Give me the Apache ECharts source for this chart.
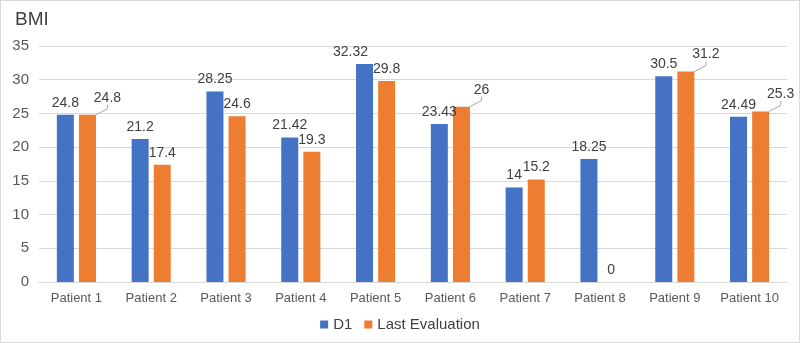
<!DOCTYPE html>
<html>
<head>
<meta charset="utf-8">
<script src="https://cdn.jsdelivr.net/npm/echarts@6/dist/echarts.min.js"></script>
<style>
  html, body { margin: 0; padding: 0; background: #fff; }
  #chart { width: 798px; height: 341px; border: 1px solid #d9d9d9; }
</style>
</head>
<body>
<div id="chart"></div>
<script>
// data
var categories = ["Patient 1", "Patient 2", "Patient 3", "Patient 4", "Patient 5",
  "Patient 6", "Patient 7", "Patient 8", "Patient 9", "Patient 10"];
var d1 = [24.8, 21.2, 28.25, 21.42, 32.32, 23.43, 14, 18.25, 30.5, 24.49];
var lastEval = [24.8, 17.4, 24.6, 19.3, 29.8, 26, 15.2, 0, 31.2, 25.3];
// orange labels that sit off to the side with a leader line
var movedLabels = [0, 5, 8, 9];

var chart = echarts.init(document.getElementById("chart"));
var font = "'Liberation Sans', Arial, sans-serif";

var lastData = lastEval.map(function (v, i) {
  if (movedLabels.indexOf(i) >= 0) {
    return { value: v, labelLine: { show: true } };
  }
  return v;
});

var option = {
  animation: false,
  textStyle: { fontFamily: font },
  title: {
    text: "BMI",
    left: 9,
    top: 4,
    textStyle: { fontSize: 19, fontWeight: "normal", color: "#404040", fontFamily: font }
  },
  legend: {
    data: ["D1", "Last Evaluation"],
    bottom: 5,
    left: "center",
    icon: "rect",
    itemWidth: 8,
    itemHeight: 8,
    itemGap: 12,
    textStyle: { fontSize: 15, color: "#404040", fontFamily: font }
  },
  grid: { left: 38, right: 12, top: 45, bottom: 60 },
  xAxis: {
    type: "category",
    data: categories,
    axisTick: { show: false },
    axisLine: { lineStyle: { color: "#d9d9d9" } },
    axisLabel: { color: "#595959", fontSize: 13, margin: 10, interval: 0, fontFamily: font }
  },
  yAxis: {
    type: "value",
    min: 0,
    max: 35,
    interval: 5,
    axisLabel: { color: "#595959", fontSize: 15, margin: 10, fontFamily: font },
    splitLine: { lineStyle: { color: "#d9d9d9" } }
  },
  series: [
    {
      name: "D1",
      type: "bar",
      barWidth: 17,
      barGap: "30%",
      itemStyle: { color: "#4472C4" },
      label: { show: true, position: "top", distance: 5, color: "#404040", fontSize: 14, fontFamily: font },
      labelLayout: function (params) {
        // Patient 5 label is nudged left in the original
        if (params.dataIndex === 4) {
          return { dx: -14 };
        }
      },
      data: d1
    },
    {
      name: "Last Evaluation",
      type: "bar",
      barWidth: 17,
      itemStyle: { color: "#ED7D31" },
      label: { show: true, position: "top", distance: 5, color: "#404040", fontSize: 14, fontFamily: font },
      labelLine: { show: false, length2: 4, lineStyle: { color: "#a6a6a6", width: 1 } },
      labelLayout: function (params) {
        if (movedLabels.indexOf(params.dataIndex) >= 0) {
          return { dx: 20, dy: -5 };
        }
      },
      data: lastData
    }
  ]
};

chart.setOption(option);
window.addEventListener("resize", function () { chart.resize(); });
</script>
</body>
</html>
